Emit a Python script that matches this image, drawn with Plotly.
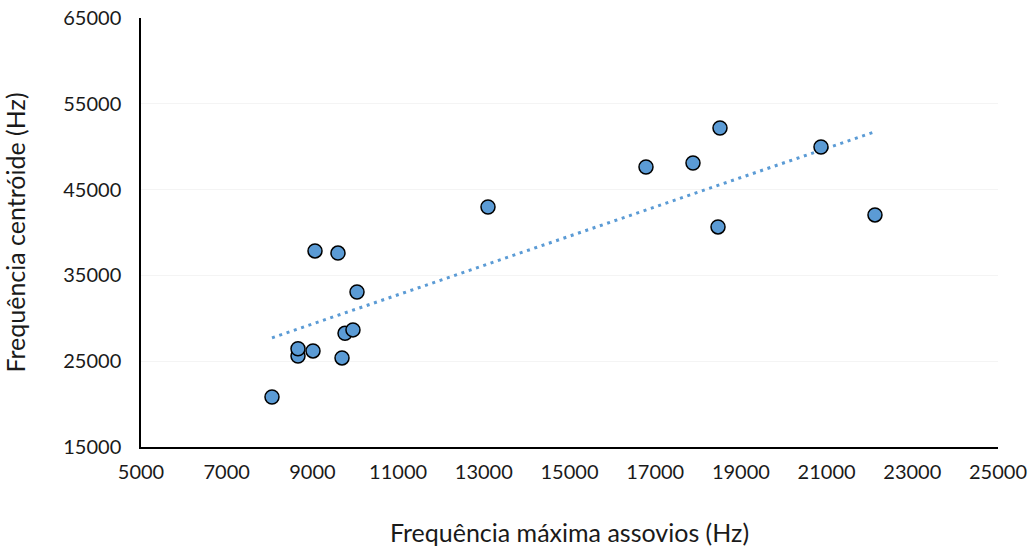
import numpy as np
import plotly.graph_objects as go

freq_max = [8057, 8664, 8664, 9014, 9061, 9597, 9691, 9761, 9947, 10041,
            13098, 16785, 17882, 18466, 18512, 20869, 22129]
freq_cent = [20830, 25600, 26450, 26200, 37850, 37600, 25380, 28250, 28650, 33070,
             42970, 47630, 48100, 40650, 52180, 49960, 42050]

x_ticks = list(range(5000, 25001, 2000))
y_ticks = list(range(15000, 65001, 10000))

blue = "#5B9BD5"
font_family = "Lato, 'Open Sans', sans-serif"

coef = np.polyfit(freq_max, freq_cent, 1)
xt = np.array([min(freq_max), max(freq_max)])
yt = np.polyval(coef, xt)

fig = go.Figure()
fig.add_trace(go.Scatter(
    x=xt, y=yt, mode="lines",
    line=dict(color=blue, width=3, dash="3px,4.7px"),
    hoverinfo="skip", showlegend=False,
))
fig.add_trace(go.Scatter(
    x=freq_max, y=freq_cent, mode="markers",
    marker=dict(size=14, color=blue, line=dict(color="black", width=1.5)),
    showlegend=False,
))

fig.update_layout(
    width=1033, height=548,
    margin=dict(l=141, r=35, t=18, b=101),
    paper_bgcolor="white", plot_bgcolor="white",
    font=dict(family=font_family, size=20, color="#1a1a1a"),
    xaxis=dict(
        range=[5000, 25000], tickvals=x_ticks, ticktext=[str(v) for v in x_ticks],
        showgrid=False, zeroline=False, automargin=False,
        showline=True, linecolor="black", linewidth=1.5,
        ticks="", ticklen=0, ticklabelstandoff=6,
        title=dict(text="Frequência máxima assovios (Hz)", font=dict(size=25), standoff=43),
    ),
    yaxis=dict(
        range=[15000, 65000], tickvals=y_ticks, ticktext=[str(v) for v in y_ticks],
        showgrid=True, gridcolor="#f4f4f4", gridwidth=1, zeroline=False, automargin=False,
        showline=True, linecolor="black", linewidth=1.5,
        ticks="", ticklen=0, ticklabelstandoff=14,
        title=dict(text="Frequência centróide (Hz)", font=dict(size=25), standoff=36),
    ),
)

fig.write_html("out.html")
